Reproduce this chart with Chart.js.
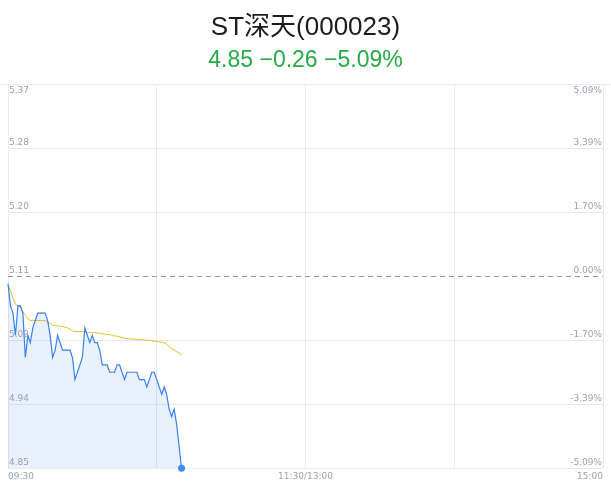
<!DOCTYPE html>
<html>
<head>
<meta charset="utf-8">
<script src="https://cdn.jsdelivr.net/npm/chart.js@4/dist/chart.umd.min.js"></script>
<style>
  html, body { margin: 0; padding: 0; background: #fff; }
</style>
</head>
<body>
<canvas id="myChart" width="611" height="492"></canvas>
<script>
// previous close and the axis ticks (price on the left, change % on the right)
const prevClose = 5.11;
const priceTicks = [5.37, 5.2833, 5.1967, 5.11, 5.0233, 4.9367, 4.85];
const priceLabels = ['5.37', '5.28', '5.20', '5.11', '5.02', '4.94', '4.85'];
const pctLabels = ['5.09%', '3.39%', '1.70%', '0.00%', '-1.70%', '-3.39%', '-5.09%'];
const timeTicks = [0, 60, 120, 180, 240];
const timeTickLabels = ['09:30', '', '11:30/13:00', '', '15:00'];

// minute prices from 09:30
const price = [
  5.10, 5.07, 5.06, 5.03, 5.07, 5.07, 5.06, 5.00, 5.03, 5.02,
  5.04, 5.05, 5.06, 5.06, 5.06, 5.06, 5.05, 5.03, 5.00, 5.01,
  5.03, 5.02, 5.01, 5.01, 5.01, 5.01, 5.00, 4.97, 4.98, 4.99,
  5.00, 5.04, 5.03, 5.02, 5.03, 5.02, 5.02, 5.01, 4.99, 4.99,
  4.99, 4.98, 4.98, 4.98, 4.99, 4.99, 4.98, 4.97, 4.98, 4.98,
  4.98, 4.98, 4.98, 4.97, 4.97, 4.97, 4.96, 4.97, 4.98, 4.98,
  4.97, 4.96, 4.95, 4.96, 4.95, 4.93, 4.92, 4.93, 4.91, 4.88,
  4.85
];
// average price line
const avgPrice = [
  5.099, 5.090, 5.080, 5.072, 5.070, 5.068, 5.062, 5.057, 5.052, 5.050,
  5.050, 5.050, 5.050, 5.050, 5.050, 5.050, 5.048, 5.046, 5.044, 5.043,
  5.043, 5.042, 5.042, 5.041, 5.040, 5.038, 5.036, 5.035, 5.035, 5.035,
  5.035, 5.035, 5.034, 5.034, 5.034, 5.034, 5.033, 5.033, 5.032, 5.032,
  5.031, 5.031, 5.030, 5.029, 5.029, 5.028, 5.027, 5.026, 5.026, 5.025,
  5.025, 5.025, 5.024, 5.024, 5.024, 5.024, 5.023, 5.023, 5.023, 5.022,
  5.022, 5.021, 5.021, 5.020, 5.018, 5.015, 5.012, 5.010, 5.008, 5.006,
  5.004
];

// one slot per trading minute: 09:30-11:30, 13:01-15:00
const times = [];
for (let m = 0; m <= 240; m++) {
  let t = m <= 120 ? 9 * 60 + 30 + m : 13 * 60 + (m - 120);
  times.push(String(Math.floor(t / 60)).padStart(2, '0') + ':' + String(t % 60).padStart(2, '0'));
}

const gridColor = '#e9eaef';
const labelColor = '#9a9fac';

const axisLabels = {
  id: 'axisLabels',
  beforeDatasetsDraw(chart) {
    const { ctx, chartArea, scales } = chart;
    const y = Math.round(scales.y.getPixelForValue(prevClose)) + 0.5;
    ctx.save();
    ctx.strokeStyle = '#9196a4';
    ctx.lineWidth = 1;
    ctx.setLineDash([5, 4]);
    ctx.beginPath();
    ctx.moveTo(chartArea.left, y);
    ctx.lineTo(chartArea.right, y);
    ctx.stroke();
    ctx.setLineDash([]);
    ctx.strokeStyle = gridColor;
    const top = Math.round(chartArea.top) + 0.5;
    ctx.beginPath();
    ctx.moveTo(0, top);
    ctx.lineTo(chart.width, top);
    ctx.stroke();
    ctx.restore();
  },
  afterDraw(chart) {
    const { ctx, chartArea, scales } = chart;
    ctx.save();
    ctx.font = '9px "DejaVu Sans"';
    ctx.fillStyle = labelColor;
    priceTicks.forEach((v, i) => {
      const y = scales.y.getPixelForValue(v);
      ctx.textBaseline = i === 0 ? 'top' : 'bottom';
      const ty = i === 0 ? y + 2 : y - 1;
      ctx.textAlign = 'left';
      ctx.fillText(priceLabels[i], chartArea.left + 1, ty);
      ctx.textAlign = 'right';
      ctx.fillText(pctLabels[i], chartArea.right - 1, ty);
    });
    ctx.restore();
  }
};

new Chart(document.getElementById('myChart'), {
  type: 'line',
  data: {
    labels: times,
    datasets: [{
      data: price,
      borderColor: '#3b80ef',
      borderWidth: 1.2,
      backgroundColor: 'rgba(59,128,239,0.11)',
      fill: 'start',
      tension: 0,
      clip: false,
      pointRadius: ctx => ctx.dataIndex === price.length - 1 ? 3.5 : 0,
      pointBackgroundColor: '#3d8cf6',
      pointBorderWidth: 0
    }, {
      data: avgPrice,
      borderColor: '#e0bd28',
      borderWidth: 1,
      fill: false,
      tension: 0,
      pointRadius: 0
    }]
  },
  options: {
    responsive: false,
    animation: false,
    layout: { padding: { left: 8, right: 8, bottom: 7 } },
    plugins: {
      legend: { display: false },
      tooltip: { enabled: false },
      title: {
        display: true,
        text: 'ST深天(000023)',
        color: '#1c1c20',
        font: { size: 26, weight: 'normal', family: '"Liberation Sans", "Noto Sans CJK SC", sans-serif' },
        padding: { top: 12, bottom: 2 }
      },
      subtitle: {
        display: true,
        text: '4.85 −0.26 −5.09%',
        color: '#25ab47',
        font: { size: 23, weight: 'normal', family: '"Liberation Sans", "Noto Sans CJK SC", sans-serif' },
        padding: { top: 2, bottom: 9.5 }
      }
    },
    scales: {
      x: {
        type: 'category',
        offset: false,
        afterBuildTicks: s => { s.ticks = timeTicks.map(v => ({ value: v })); },
        grid: { color: gridColor, drawTicks: false },
        border: { display: false },
        ticks: {
          autoSkip: false,
          maxRotation: 0,
          align: 'inner',
          padding: 3,
          color: labelColor,
          font: { size: 9, family: '"DejaVu Sans"' },
          callback: (v, i) => timeTickLabels[i]
        }
      },
      y: {
        min: 4.85,
        max: 5.37,
        afterBuildTicks: s => { s.ticks = priceTicks.map(v => ({ value: v })); },
        grid: {
          drawTicks: false,
          color: ctx => ctx.tick && ctx.tick.value === prevClose ? 'rgba(0,0,0,0)' : gridColor
        },
        border: { display: false },
        ticks: { display: false }
      }
    }
  },
  plugins: [axisLabels]
});
</script>
</body>
</html>
